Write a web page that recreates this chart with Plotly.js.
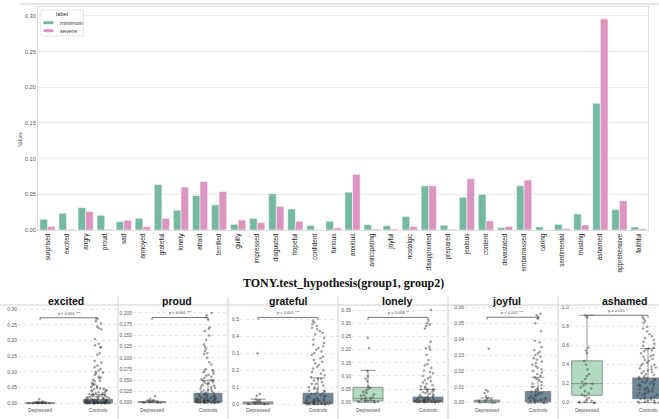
<!DOCTYPE html>
<html><head><meta charset="utf-8">
<script src="https://cdn.plot.ly/plotly-3.0.1.min.js"></script>
<style>html,body{margin:0;padding:0;background:#fff}#chart{width:659px;height:419px}</style>
</head><body><div id="chart"></div>
<script>
// ---------- top grouped bar chart data ----------
const emotions = ['surprised','excited','angry','proud','sad','annoyed','grateful','lonely','afraid','terrified','guilty','impressed','disgusted','hopeful','confident','furious','anxious','anticipating','joyful','nostalgic','disappointed','prepared','jealous','content','devastated','embarrassed','caring','sentimental','trusting','ashamed','apprehensive','faithful'];
const minimumValues = [0.015,0.0234,0.0314,0.0206,0.0117,0.0164,0.0638,0.0277,0.0483,0.0352,0.008,0.0164,0.051,0.0295,0.0066,0.0122,0.053,0.0075,0.006,0.019,0.062,0.0066,0.046,0.050,0.0033,0.062,0.0042,0.008,0.0225,0.1777,0.0286,0.0042];
const severeValues  = [0.005,0.001,0.026,0.001,0.0136,0.0047,0.0164,0.060,0.068,0.054,0.014,0.0103,0.0333,0.0122,0.0005,0.003,0.078,0.0014,0.0014,0.005,0.062,0.001,0.072,0.0127,0.005,0.070,0,0.0023,0.007,0.296,0.041,0.0019];
const seriesNames = ['minimum','severe'];
const legendTitle = 'label';

// ---------- bottom box plots data ----------
const groupLabels = ['Depressed','Controls'];
const panelNames = ['excited','proud','grateful','lonely','joyful','ashamed'];
const pTexts = ['p < 0.001 ***','p < 0.001 ***','p < 0.001 ***','p = 0.008 **','p < 0.001 ***','p = 0.015 *'];
const bracketHeights = [0.273,0.19,0.51,0.322,0.0538,0.92];
// box stats: [q1, median, q3, lowerfence, upperfence]
const depressedStats = [[0.0003,0.001,0.002,0,0.004],[0.0005,0.001,0.002,0,0.004],[0.002,0.006,0.014,0,0.03],[0.005,0.015,0.057,0,0.121],[0.0003,0.001,0.0016,0,0.003],[0.078,0.2,0.44,0,0.92]];
const controlsStats  = [[0.001,0.004,0.012,0,0.028],[0.001,0.006,0.021,0,0.05],[0.003,0.022,0.065,0,0.155],[0.001,0.006,0.02,0,0.049],[0.0005,0.002,0.007,0,0.016],[0.042,0.14,0.26,0,0.57]];

const excitedDepressed = [0.013,0.006,0.004,0.003,0.003,0.002,0.002,0.002,0.001,0.001,0.001,0.001,0,0,0,0,0];
const excitedControls = [0.27,0.262,0.255,0.245,0.24,0.236,0.205,0.19,0.185,0.18,0.178,0.16,0.155,0.135,0.13,0.12,0.115,0.11,0.105,0.1,0.098,0.095,0.09,0.085,0.082,0.08,0.075,0.072,0.07,0.065,0.062,0.06,0.058,0.055,0.052,0.05,0.048,0.046,0.045,0.043,0.041,0.04,0.038,0.036,0.035,0.033,0.032,0.03,0.029,0.028,0.026,0.025,0.024,0.023,0.022,0.021,0.02,0.02,0.019,0.018,0.017,0.016,0.015,0.015,0.014,0.013,0.012,0.012,0.011,0.01,0.01,0.009,0.009,0.008,0.008,0.007,0.007,0.006,0.006,0.006,0.005,0.005,0.005,0.004,0.004,0.004,0.004,0.003,0.003,0.003,0.003,0.002,0.002,0.002,0.002,0.002,0.001,0.001,0.001,0.001,0.001,0.001,0,0,0,0,0,0,0,0,0,0,0,0];
const proudDepressed = [0.015,0.008,0.006,0.005,0.004,0.003,0.002,0.002,0.001,0.001,0,0,0];
const proudControls = [0.2,0.195,0.19,0.185,0.168,0.165,0.16,0.15,0.14,0.13,0.125,0.12,0.115,0.11,0.108,0.1,0.09,0.085,0.075,0.073,0.072,0.07,0.068,0.065,0.062,0.06,0.058,0.055,0.052,0.05,0.05,0.048,0.046,0.045,0.043,0.042,0.04,0.038,0.036,0.035,0.033,0.031,0.03,0.028,0.027,0.025,0.024,0.022,0.021,0.02,0.019,0.018,0.017,0.016,0.015,0.014,0.013,0.012,0.011,0.01,0.01,0.009,0.009,0.008,0.008,0.007,0.007,0.006,0.006,0.005,0.005,0.004,0.004,0.004,0.003,0.003,0.003,0.002,0.002,0.002,0.002,0.001,0.001,0.001,0.001,0.001,0,0,0,0,0,0,0,0];
const gratefulDepressed = [0.3,0.06,0.05,0.03,0.025,0.02,0.015,0.012,0.01,0.008,0.006,0.005,0.004,0.003,0.002,0.001,0];
const gratefulControls = [0.49,0.48,0.47,0.46,0.45,0.44,0.43,0.42,0.41,0.39,0.38,0.36,0.35,0.34,0.33,0.32,0.31,0.3,0.29,0.28,0.27,0.26,0.25,0.24,0.23,0.22,0.21,0.2,0.19,0.18,0.17,0.16,0.15,0.15,0.14,0.13,0.12,0.12,0.11,0.1,0.1,0.09,0.09,0.08,0.08,0.075,0.07,0.065,0.06,0.06,0.055,0.05,0.05,0.045,0.04,0.04,0.035,0.03,0.03,0.028,0.025,0.022,0.02,0.02,0.018,0.015,0.013,0.012,0.01,0.01,0.008,0.007,0.006,0.005,0.004,0.003,0.002,0.001,0,0,0,0,0,0];
const lonelyDepressed = [0.245,0.205,0.12,0.1,0.09,0.08,0.06,0.055,0.05,0.045,0.04,0.035,0.03,0.028,0.025,0.02,0.018,0.015,0.012,0.01,0.008,0.006,0.005,0.004,0.003,0.002,0.001,0];
const lonelyControls = [0.35,0.31,0.3,0.295,0.29,0.28,0.23,0.21,0.205,0.2,0.18,0.16,0.145,0.14,0.13,0.12,0.115,0.11,0.1,0.095,0.09,0.085,0.08,0.075,0.07,0.065,0.06,0.06,0.055,0.05,0.05,0.048,0.045,0.042,0.04,0.038,0.035,0.032,0.03,0.028,0.025,0.022,0.02,0.019,0.018,0.016,0.015,0.013,0.012,0.011,0.01,0.009,0.008,0.007,0.006,0.005,0.005,0.004,0.004,0.003,0.003,0.002,0.002,0.001,0.001,0,0,0,0,0,0];
const joyfulDepressed = [0.034,0.008,0.007,0.006,0.004,0.003,0.002,0.002,0.001,0.001,0,0,0];
const joyfulControls = [0.056,0.055,0.054,0.053,0.05,0.045,0.039,0.038,0.035,0.033,0.032,0.031,0.03,0.029,0.028,0.027,0.026,0.025,0.024,0.023,0.022,0.021,0.02,0.019,0.018,0.017,0.016,0.015,0.014,0.013,0.012,0.011,0.01,0.01,0.009,0.009,0.008,0.008,0.007,0.007,0.006,0.006,0.005,0.005,0.004,0.004,0.003,0.003,0.003,0.002,0.002,0.002,0.001,0.001,0.001,0.001,0,0,0,0,0,0];
const ashamedDepressed = [0.92,0.9,0.58,0.55,0.52,0.44,0.4,0.35,0.3,0.28,0.25,0.22,0.2,0.2,0.18,0.16,0.15,0.12,0.1,0.08,0.07,0.05,0.03,0.02,0.01,0.01,0,0,0];
const ashamedControls = [0.9,0.88,0.86,0.84,0.8,0.78,0.75,0.72,0.7,0.68,0.66,0.64,0.62,0.6,0.58,0.57,0.56,0.55,0.54,0.52,0.5,0.49,0.48,0.46,0.45,0.44,0.42,0.41,0.4,0.39,0.38,0.37,0.36,0.35,0.34,0.33,0.32,0.31,0.3,0.29,0.28,0.27,0.26,0.26,0.25,0.25,0.24,0.23,0.22,0.22,0.21,0.2,0.2,0.19,0.18,0.18,0.17,0.16,0.15,0.15,0.14,0.14,0.13,0.12,0.12,0.11,0.1,0.1,0.09,0.08,0.08,0.07,0.06,0.06,0.05,0.04,0.04,0.03,0.02,0.02,0.01,0.01,0,0,0];

const depressedPoints = [excitedDepressed,proudDepressed,gratefulDepressed,lonelyDepressed,joyfulDepressed,ashamedDepressed];
const controlsPoints = [excitedControls,proudControls,gratefulControls,lonelyControls,joyfulControls,ashamedControls];

// ---------- layout helpers (pixel geometry, not data) ----------
const W = 659, H = 419;
const px = v => v / W, py = v => 1 - v / H;
const panelGeom = [ // [left, right, centre0, centre1, titleX]
  [18,117,40,98,66],[133,227,152,208,177],[240,337,258,318,288],
  [352,447,368,428,397],[465,557,487,538,506],[570,659,587,648,625]];
const panelY = [[-0.0086,0.3137,0.05,'.2f'],[-0.0074,0.2178,0.025,'.3f'],[-0.010,0.583,0.1,'.1f'],
  [-0.014,0.369,0.05,'.2f'],[-0.0021,0.0615,0.01,'.2f'],[-0.035,1.028,0.2,'.1f']];
const BOT_TOP = 305, BOT_BOT = 406;

const GREEN = '#74b9a0', PINK = '#dc94c1';
const seriesColors = [GREEN, PINK];
const traces = [
  {type:'bar', name:seriesNames[0], x:emotions, y:minimumValues, marker:{color:GREEN, line:{color:'#fff', width:0.5}}, xaxis:'x', yaxis:'y', showlegend:false},
  {type:'bar', name:seriesNames[1], x:emotions, y:severeValues, marker:{color:PINK, line:{color:'#fff', width:0.5}}, xaxis:'x', yaxis:'y', showlegend:false}
];

const layout = {
  width:W, height:H, autosize:false, margin:{l:0,r:0,t:0,b:0},
  paper_bgcolor:'#fff', plot_bgcolor:'#fff',
  barmode:'group', bargap:0.2, bargroupgap:0, boxmode:'overlay',
  font:{family:'Liberation Sans, Arial, sans-serif'},
  showlegend:false,
  xaxis:{domain:[px(38), px(648)], type:'category', tickangle:-90, tickfont:{size:6.5, color:'#222'},
    showgrid:false, showline:true, linecolor:'#ddd', mirror:true, ticks:'', anchor:'y', range:[-0.5, emotions.length-0.5]},
  yaxis:{domain:[py(230), py(7)], range:[0,0.3126], dtick:0.05, tickformat:'.2f', gridcolor:'#e6e6e6', gridwidth:0.8,
    showline:true, linecolor:'#ddd', mirror:true, zeroline:false, tickfont:{size:5.7, color:'#555'}, ticks:'', anchor:'x'},
  annotations:[
    {xref:'paper', yref:'paper', x:px(343), y:py(283), text:'<b>TONY.test_hypothesis(group1, group2)</b>', showarrow:false,
      font:{family:'Liberation Serif, Times New Roman, serif', size:12, color:'#111'}, xanchor:'center', yanchor:'middle'},
    {xref:'paper', yref:'paper', x:px(15), y:py(140), text:'Values', textangle:-90, showarrow:false,
      font:{family:'Liberation Serif, serif', size:5.5, color:'#333'}}
  ],
  shapes:[
    {type:'line', xref:'paper', yref:'paper', x0:px(20), x1:1, y0:py(4), y1:py(4), line:{color:'#cfcfcf', width:1}},
    {type:'line', xref:'paper', yref:'paper', x0:0, x1:1, y0:py(305), y1:py(305), line:{color:'#cfcfcf', width:1}},
    // legend frame
    {type:'rect', xref:'paper', yref:'paper', x0:px(41), x1:px(83.5), y0:py(36), y1:py(10), fillcolor:'#fff', line:{color:'#d8d8d8', width:0.7}, layer:'above'}
  ]
};
// custom compact legend (matches matplotlib-style legend)
layout.annotations.push({xref:'paper', yref:'paper', x:px(62), y:py(14.5), text:legendTitle, showarrow:false,
  font:{size:5.7, color:'#333'}, xanchor:'center', yanchor:'middle'});
seriesNames.forEach((n, j) => {
  const yc = 22.7 + j * 8;
  layout.shapes.push({type:'rect', xref:'paper', yref:'paper', x0:px(43.5), x1:px(53.5), y0:py(yc + 1.5), y1:py(yc - 1.5),
    fillcolor:seriesColors[j], line:{width:0}, layer:'above'});
  layout.annotations.push({xref:'paper', yref:'paper', x:px(57.5), y:py(yc), text:n, showarrow:false,
    font:{size:5.7, color:'#333'}, xanchor:'left', yanchor:'middle'});
});
[118,228,338,448,558].forEach(v => layout.shapes.push({type:'line', xref:'paper', yref:'paper', x0:px(v), x1:px(v), y0:0, y1:py(297), line:{color:'#d0d0d0', width:1}}));

panelNames.forEach((name, i) => {
  const k = i + 2, xa = 'x' + k, ya = 'y' + k;
  const [L, R, c0, c1, tx] = panelGeom[i];
  const u = c1 - c0;
  const [yb, yt, dt, fmt] = panelY[i];
  layout['xaxis' + k] = {domain:[px(L), px(R)], type:'category', categoryorder:'array', categoryarray:groupLabels,
    range:[(L - c0) / u, (R - c0) / u], anchor:ya, showgrid:false, showline:false, zeroline:false, ticks:'',
    tickfont:{size:5, color:'#555'}};
  layout['yaxis' + k] = {domain:[py(BOT_BOT), py(BOT_TOP)], range:[yb, yt], dtick:dt, tick0:0, tickformat:fmt, anchor:xa,
    showgrid:true, gridcolor:'#d8d8d8', griddash:'dot', gridwidth:0.7, zeroline:false, showline:false, ticks:'',
    tickfont:{size:5, color:'#555'}};
  const statsSets = [depressedStats[i], controlsStats[i]];
  const fills = ['#a9d6bb', '#5f7d92'];
  groupLabels.forEach((g, j) => {
    const s = statsSets[j];
    traces.push({type:'box', x:[g], q1:[s[0]], median:[s[1]], q3:[s[2]], lowerfence:[s[3]], upperfence:[s[4]],
      xaxis:xa, yaxis:ya, fillcolor:fills[j], line:{color:'#6e6e6e', width:0.8}, width:0.5, whiskerwidth:0.5,
      boxpoints:false, showlegend:false, hoverinfo:'skip', opacity:0.9});
  });
  [depressedPoints[i], controlsPoints[i]].forEach((pts, j) => {
    traces.push({type:'box', x:pts.map(() => groupLabels[j]), y:pts, xaxis:xa, yaxis:ya, boxpoints:'all', jitter:0.9, pointpos:0,
      width:0.5, fillcolor:'rgba(0,0,0,0)', line:{color:'rgba(0,0,0,0)', width:0},
      marker:{size:2, color:'rgba(80,80,80,0.45)', line:{color:'rgba(30,30,30,0.8)', width:0.3}},
      showlegend:false, hoverinfo:'skip'});
  });
  layout.annotations.push({xref:'paper', yref:'paper', x:px(tx), y:py(301), text:'<b>' + name + '</b>', showarrow:false,
    font:{size:10.5, color:'#111'}, xanchor:'center', yanchor:'middle'});
  const h = bracketHeights[i];
  const d = (yt - yb) * 2.5 / (BOT_BOT - BOT_TOP);
  const lc = {color:'#555', width:0.8};
  layout.shapes.push({type:'line', xref:xa, yref:ya, x0:0, x1:1, y0:h, y1:h, line:lc});
  layout.shapes.push({type:'line', xref:xa, yref:ya, x0:0, x1:0, y0:h, y1:h - d, line:lc});
  layout.shapes.push({type:'line', xref:xa, yref:ya, x0:1, x1:1, y0:h, y1:h - d, line:lc});
  layout.annotations.push({xref:xa, yref:ya, x:0.5, y:h, text:pTexts[i], showarrow:false, yanchor:'bottom',
    font:{size:4, color:'#444'}});
});

Plotly.newPlot('chart', traces, layout, {displayModeBar:false, staticPlot:true});
</script>
</body></html>
